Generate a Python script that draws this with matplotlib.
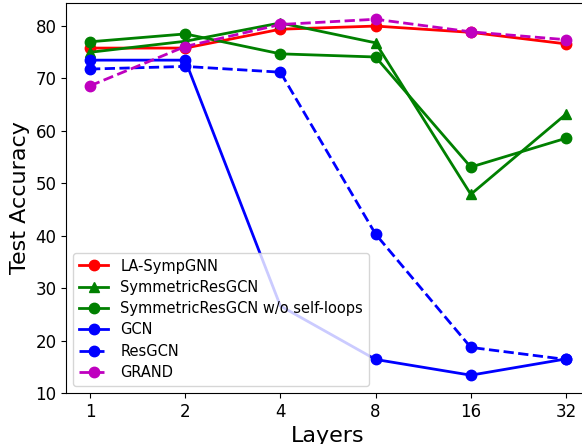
import matplotlib
matplotlib.use("Agg")
import matplotlib.pyplot as plt

layers = [1, 2, 4, 8, 16, 32]

la_symp = [75.8, 75.8, 79.4, 80.0, 78.8, 76.6]
sym_res = [75.0, 77.1, 80.6, 76.8, 47.9, 63.2]
sym_res_noloop = [77.0, 78.5, 74.7, 74.1, 53.1, 58.6]
gcn = [73.5, 73.5, 26.6, 16.4, 13.4, 16.5]
res_gcn = [71.8, 72.3, 71.2, 40.3, 18.7, 16.4]
grand = [68.6, 76.1, 80.3, 81.3, 78.9, 77.4]

x = list(range(len(layers)))

fig = plt.figure(figsize=(5.82, 4.44), dpi=100)
# axes run past the right edge, as in the cropped original
ax = fig.add_axes([66.2 / 582, 51 / 444, 523.6 / 582, 390 / 444])

ms = 7.5
ax.plot(x, la_symp, "r-o", lw=2, ms=ms, label="LA-SympGNN")
ax.plot(x, sym_res, "g-^", lw=2, ms=ms, label="SymmetricResGCN")
ax.plot(x, sym_res_noloop, "g-o", lw=2, ms=ms, label="SymmetricResGCN w/o self-loops")
ax.plot(x, gcn, "b-o", lw=2, ms=ms, markevery=[0, 1, 3, 4, 5], label="GCN")
ax.plot(x, res_gcn, "b--o", lw=2, ms=ms, label="ResGCN")
ax.plot(x, grand, "m--o", lw=2, ms=ms, label="GRAND")

ax.set_xticks(x)
ax.set_xticklabels([str(l) for l in layers])
ax.set_xlim(-0.25, 5.25)
ax.set_ylim(10, 84.4)
ax.tick_params(labelsize=12)
ax.set_xlabel("Layers", fontsize=16)
ax.set_ylabel("Test Accuracy", fontsize=16)
ax.legend(loc="lower left", fontsize=10.5, labelspacing=0.43)

fig.savefig("out.png", dpi=100)
